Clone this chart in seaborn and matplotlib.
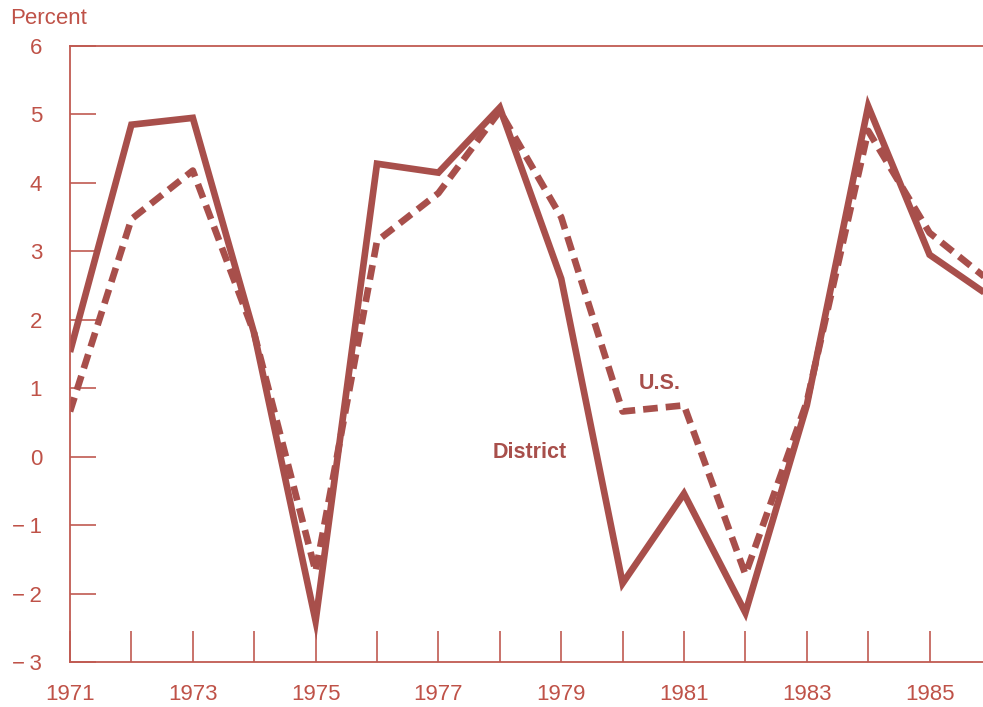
import pandas as pd
import seaborn as sns
import matplotlib.pyplot as plt

# ============================================================
# Data (annual percent change)
# ============================================================

years = list(range(1971, 1987))
district = [1.53, 4.85, 4.95, 1.8, -2.4, 4.28, 4.15, 5.1, 2.6, -1.85,
            -0.54, -2.28, 0.75, 5.12, 2.95, 2.33]
us = [0.66, 3.47, 4.18, 1.8, -1.68, 3.15, 3.85, 5.05, 3.5, 0.66,
      0.75, -1.72, 0.8, 4.76, 3.27, 2.55]

y_ticks = [-3, -2, -1, 0, 1, 2, 3, 4, 5, 6]
x_label_years = [1971, 1973, 1975, 1977, 1979, 1981, 1983, 1985]

df = pd.DataFrame({"Year": years, "District": district, "U.S.": us})

# ============================================================
# Style
# ============================================================

sns.set_style("white")
plt.rcParams["font.family"] = ["Liberation Sans", "DejaVu Sans"]

line_color = "#a84f4b"
axis_color = "#c05a52"
text_color = "#bf5248"

fig = plt.figure(figsize=(9.83, 7.07), dpi=100)
ax = fig.add_axes([70 / 983, 1 - 662 / 707, (991 - 70) / 983, (662 - 46) / 707])

sns.lineplot(data=df, x="Year", y="District", ax=ax, color=line_color,
             linewidth=4.8, solid_capstyle="butt", solid_joinstyle="miter")
sns.lineplot(data=df, x="Year", y="U.S.", ax=ax, color=line_color,
             linewidth=4.8, dashes=(2.2, 1.2), dash_capstyle="butt")

ax.set_xlim(1971, 1986)
ax.set_ylim(-3, 6)

# Ticks: every year, labels on odd years only
ax.set_xticks(years)
ax.set_xticklabels([str(y) if y in x_label_years else "" for y in years])
ax.set_yticks(y_ticks)
ax.set_yticklabels([str(v).replace("-", "\u2212\u2009") for v in y_ticks])

ax.tick_params(axis="x", bottom=True, direction="in", length=22, width=1.2,
               color=axis_color, labelcolor=text_color, labelsize=16, pad=16)
ax.tick_params(axis="y", left=True, direction="in", length=19, width=1.2,
               color=axis_color, labelcolor=text_color, labelsize=16, pad=20)

for side in ["left", "bottom", "top"]:
    ax.spines[side].set_visible(True)
    ax.spines[side].set_color(axis_color)
    ax.spines[side].set_linewidth(1.3)
ax.spines["right"].set_visible(False)

ax.set_xlabel("")
ax.set_ylabel("")

# Series labels
ax.text(1980.6, 1.07, "U.S.", color=line_color, fontsize=15.5,
        fontweight="bold", ha="center", va="center")
ax.text(1978.49, 0.06, "District", color=line_color, fontsize=15.5,
        fontweight="bold", ha="center", va="center")

fig.text(10 / 983, 1 - 18 / 707, "Percent", color=text_color, fontsize=16,
         ha="left", va="center")

fig.savefig("out.png", dpi=100)
